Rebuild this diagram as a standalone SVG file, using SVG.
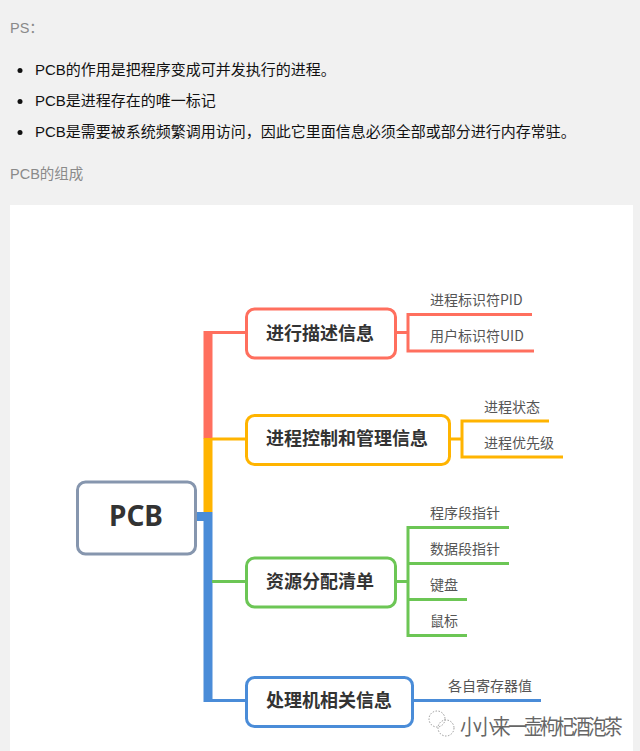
<svg xmlns="http://www.w3.org/2000/svg" width="640" height="751" viewBox="0 0 640 751">
<style>
text{font-family:"Noto Sans CJK SC","Noto Sans",sans-serif}
.g{font-size:14.5px;fill:#8a8a8a}
.b{font-size:15px;fill:#111}
.t{font-size:18px;font-weight:700;fill:#333}
.l{font-size:14px;fill:#555}
.box{fill:#fff;stroke-width:3}
.c{fill:none;stroke-width:3}
.wm{font-size:21px;fill:#666;letter-spacing:-3px}
</style>
<rect width="640" height="751" fill="#f1f1f1"/>
<rect x="10" y="205" width="623" height="546" fill="#fff"/>
<g id="page-text">
<text class="g" x="10" y="33" style="font-family:'Liberation Sans','Noto Sans CJK SC',sans-serif">PS：</text>
<circle cx="20" cy="70.500" r="2.500" fill="#111"/>
<circle cx="20" cy="101.500" r="2.500" fill="#111"/>
<circle cx="20" cy="132.500" r="2.500" fill="#111"/>
<text class="b" x="35" y="75" style="font-family:'Liberation Sans','Noto Sans CJK SC',sans-serif">PCB的作用是把程序变成可并发执行的进程。</text>
<text class="b" x="35" y="106" style="font-family:'Liberation Sans','Noto Sans CJK SC',sans-serif">PCB是进程存在的唯一标记</text>
<text class="b" x="35" y="137" style="font-family:'Liberation Sans','Noto Sans CJK SC',sans-serif">PCB是需要被系统频繁调用访问，因此它里面信息必须全部或部分进行内存常驻。</text>
<text class="g" x="10" y="179" style="font-family:'Liberation Sans','Noto Sans CJK SC',sans-serif">PCB的组成</text>
</g>
<g id="connectors">
<rect x="203.500" y="331" width="9" height="107.500" fill="#ff6f5e"/>
<rect x="203.500" y="438" width="9" height="74" fill="#ffb400"/>
<path d="M196 516.500H208M208 512V702" fill="none" stroke="#4a8cd8" stroke-width="9"/>
<path class="c" stroke="#ff6f5e" d="M208 332.500H246"/>
<path class="c" stroke="#ffb400" d="M212 439H246"/>
<path class="c" stroke="#6cc655" d="M212 581.500H246"/>
<path class="c" stroke="#4a8cd8" d="M212 700.500H246"/>
<path class="c" stroke="#ff6f5e" d="M396 332.500H408M532 314.500H408V351H534"/>
<path class="c" stroke="#ffb400" d="M450 439H462M549 421H462V457H563"/>
<path class="c" stroke="#6cc655" d="M396 581.500H408M509 527.500H408V635.500H467M408 563.500H509M408 599.500H467"/>
<path class="c" stroke="#4a8cd8" d="M413 700.500H541"/>
</g>
<g id="root"><rect class="box" x="77.500" y="482" width="118" height="72" rx="8" stroke="#8696ae"/><text x="136" y="526" text-anchor="middle" style="font-family:'Noto Sans',sans-serif;font-size:28px;font-weight:700;fill:#333">PCB</text></g>
<g id="n1"><rect class="box" x="246.500" y="309" width="149" height="49" rx="8" stroke="#ff6f5e"/><text class="t" x="266" y="340">进行描述信息</text></g>
<g id="n2"><rect class="box" x="246.500" y="415.500" width="203" height="49" rx="8" stroke="#ffb400"/><text class="t" x="266" y="445">进程控制和管理信息</text></g>
<g id="n3"><rect class="box" x="246.500" y="558" width="149" height="49" rx="8" stroke="#6cc655"/><text class="t" x="266" y="588">资源分配清单</text></g>
<g id="n4"><rect class="box" x="246.500" y="677.500" width="166" height="49" rx="8" stroke="#4a8cd8"/><text class="t" x="266" y="707">处理机相关信息</text></g>
<g id="leaf-1"><text class="l" x="430" y="305">进程标识符PID</text></g>
<g id="leaf-2"><text class="l" x="430" y="341">用户标识符UID</text></g>
<g id="leaf-3"><text class="l" x="484" y="412">进程状态</text></g>
<g id="leaf-4"><text class="l" x="484" y="448">进程优先级</text></g>
<g id="leaf-5"><text class="l" x="430" y="518">程序段指针</text></g>
<g id="leaf-6"><text class="l" x="430" y="554">数据段指针</text></g>
<g id="leaf-7"><text class="l" x="430" y="590">键盘</text></g>
<g id="leaf-8"><text class="l" x="430" y="626">鼠标</text></g>
<g id="leaf-9"><text class="l" x="448" y="691">各自寄存器值</text></g>
<g id="watermark">
<g fill="none" stroke="#999" stroke-width="1" stroke-dasharray="1.500 1.500"><circle cx="437" cy="719" r="8"/><circle cx="446" cy="728" r="8"/></g>
<text class="wm" x="460" y="734" textLength="160" lengthAdjust="spacingAndGlyphs">小小来一壶枸杞酒泡茶</text>
</g>
</svg>
